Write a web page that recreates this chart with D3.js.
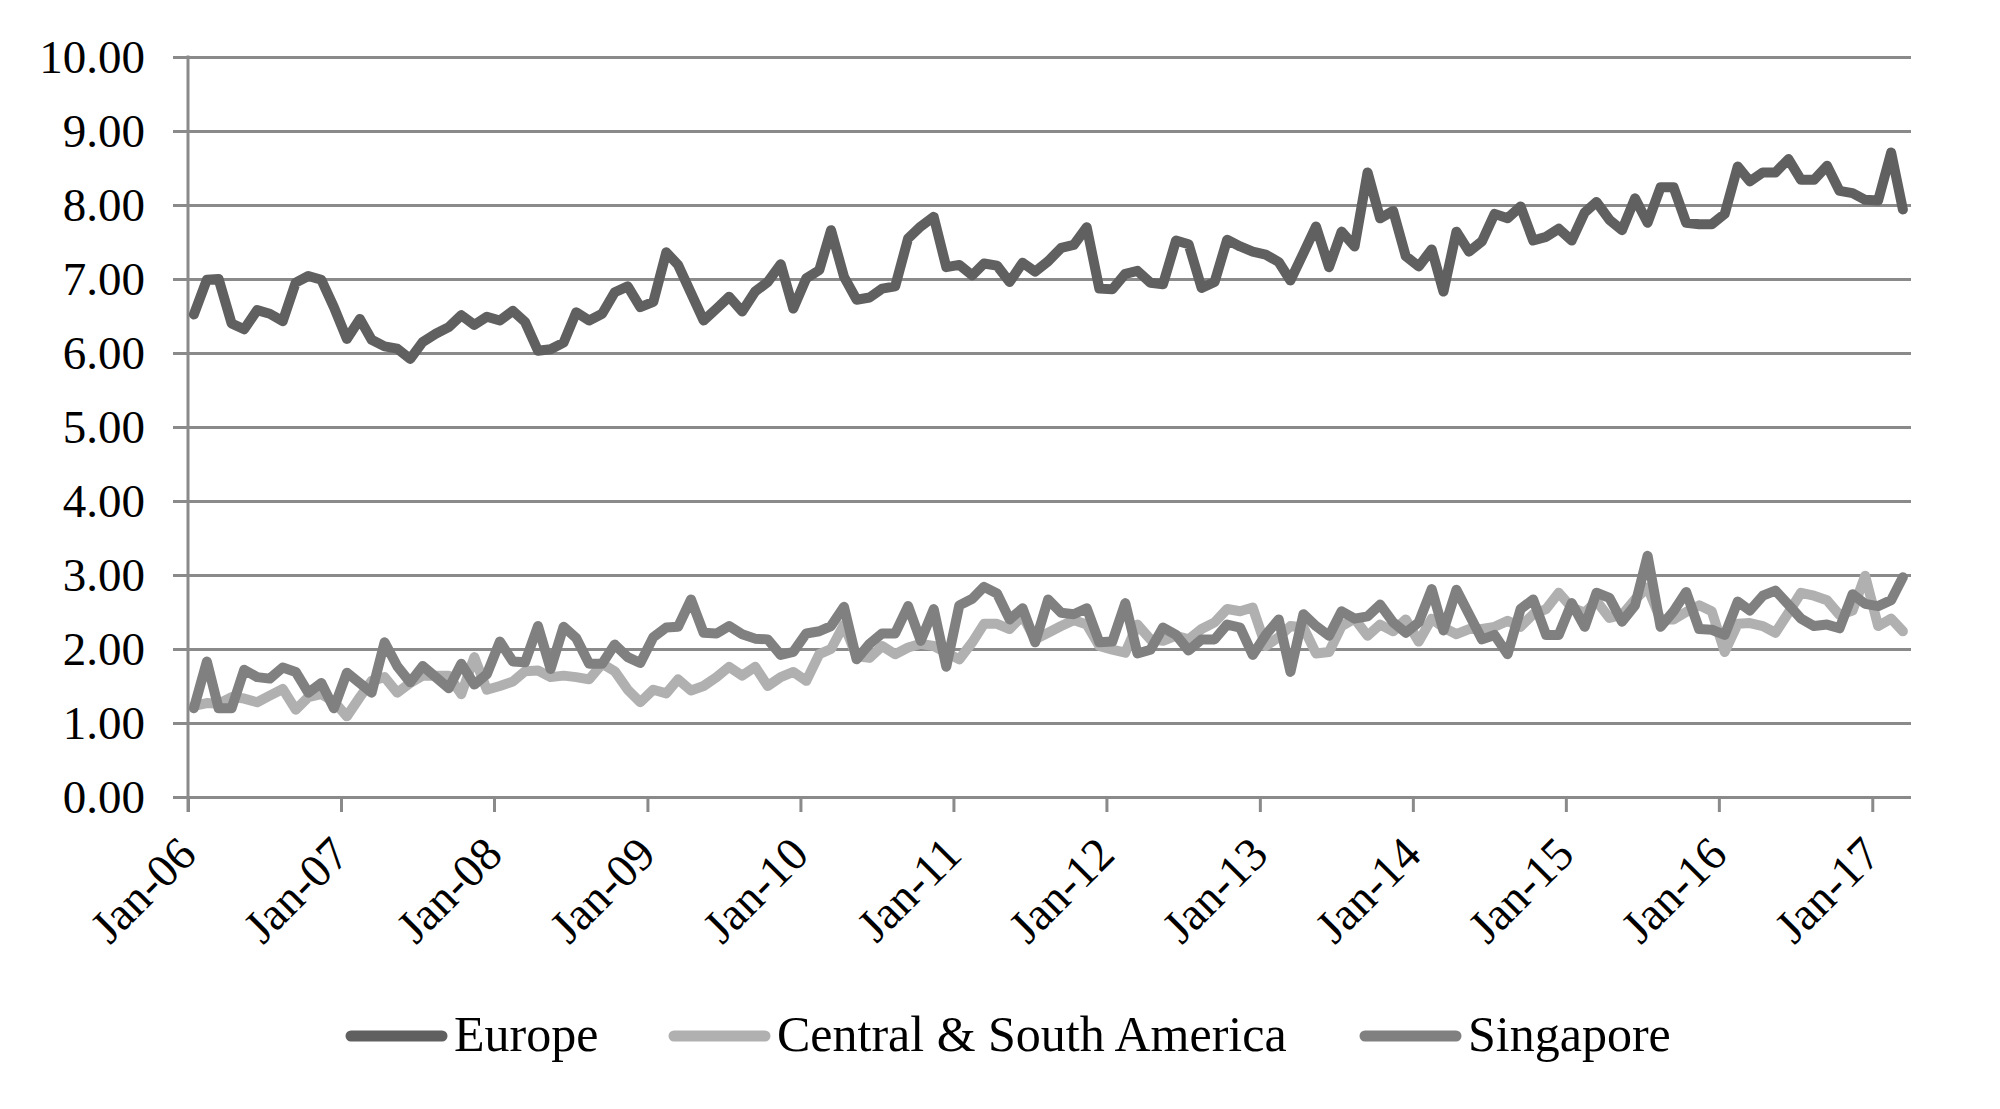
<!DOCTYPE html>
<html><head><meta charset="utf-8">
<script src="https://cdn.jsdelivr.net/npm/d3@7"></script>
<style>
body{margin:0;background:#fff}
svg{display:block}
text{font-family:"Liberation Serif","Times New Roman",serif;fill:#000}
</style>
</head><body>
<svg id="chart" width="2000" height="1109"></svg>
<script>
// Categories: monthly observations Jan-06 .. Mar-17
const firstMonth = new Date(2006, 0, 1);
const axisEnd = new Date(2017, 3, 1);
const months = d3.timeMonth.range(firstMonth, axisEnd); // 135 months

const seriesNames = ["Europe", "Central & South America", "Singapore"];
const seriesColors = ["#5f605f", "#b0b0b0", "#808080"];

const europe = [6.52,6.99,7.00,6.40,6.32,6.58,6.53,6.43,6.95,7.04,6.99,6.62,
6.19,6.46,6.18,6.09,6.06,5.92,6.15,6.26,6.35,6.51,6.38,6.49,
6.44,6.57,6.42,6.03,6.05,6.14,6.55,6.44,6.53,6.82,6.90,6.62,
6.69,7.36,7.19,6.81,6.44,6.60,6.76,6.56,6.83,6.96,7.20,6.60,
7.01,7.12,7.66,7.03,6.72,6.75,6.87,6.90,7.55,7.71,7.84,7.16,
7.19,7.05,7.21,7.18,6.96,7.22,7.10,7.24,7.42,7.46,7.70,6.87,
6.86,7.07,7.11,6.95,6.93,7.52,7.47,6.88,6.96,7.53,7.44,7.37,
7.33,7.23,6.98,7.35,7.71,7.16,7.64,7.44,8.44,7.82,7.92,7.31,
7.17,7.40,6.83,7.64,7.37,7.51,7.88,7.82,7.98,7.52,7.57,7.68,
7.52,7.90,8.04,7.80,7.66,8.09,7.76,8.24,8.24,7.76,7.74,7.74,
7.88,8.52,8.32,8.44,8.44,8.62,8.34,8.34,8.53,8.19,8.16,8.07,
8.06,8.71,7.94];

const centralSouthAmerica = [1.23,1.27,1.26,1.35,1.33,1.28,1.37,1.46,1.18,1.35,1.39,1.29,
1.09,1.35,1.57,1.62,1.41,1.54,1.64,1.64,1.64,1.39,1.89,1.45,
1.50,1.56,1.70,1.71,1.62,1.64,1.62,1.59,1.80,1.70,1.45,1.28,
1.45,1.40,1.59,1.44,1.50,1.62,1.76,1.64,1.76,1.50,1.62,1.69,
1.57,1.93,2.00,2.33,1.90,1.88,2.04,1.93,2.02,2.07,2.04,1.95,
1.86,2.09,2.34,2.34,2.27,2.45,2.13,2.22,2.31,2.39,2.33,2.04,
1.99,1.95,2.33,2.13,2.11,2.18,2.13,2.27,2.36,2.54,2.51,2.56,
2.04,2.16,2.31,2.29,1.94,1.96,2.31,2.41,2.18,2.33,2.24,2.40,
2.10,2.41,2.29,2.20,2.27,2.27,2.30,2.38,2.30,2.47,2.54,2.76,
2.56,2.49,2.65,2.42,2.46,2.67,2.83,2.40,2.40,2.50,2.59,2.51,
1.96,2.34,2.35,2.31,2.22,2.49,2.76,2.72,2.66,2.46,2.52,2.99,
2.31,2.41,2.24];

const singapore = [1.20,1.83,1.20,1.20,1.72,1.62,1.60,1.75,1.69,1.41,1.54,1.20,
1.68,1.54,1.41,2.09,1.77,1.55,1.77,1.62,1.47,1.80,1.52,1.66,
2.10,1.83,1.82,2.31,1.73,2.30,2.15,1.80,1.80,2.06,1.89,1.81,
2.16,2.29,2.30,2.67,2.22,2.21,2.31,2.20,2.14,2.13,1.92,1.96,
2.21,2.24,2.31,2.57,1.86,2.07,2.21,2.21,2.58,2.11,2.54,1.76,
2.59,2.68,2.84,2.75,2.40,2.55,2.09,2.67,2.49,2.47,2.55,2.09,
2.10,2.62,1.94,1.99,2.29,2.19,1.98,2.13,2.13,2.33,2.29,1.92,
2.19,2.40,1.69,2.47,2.31,2.18,2.51,2.41,2.44,2.60,2.36,2.22,
2.36,2.81,2.25,2.80,2.47,2.13,2.19,1.93,2.54,2.67,2.19,2.19,
2.62,2.30,2.76,2.69,2.37,2.59,3.26,2.30,2.51,2.77,2.27,2.26,
2.19,2.64,2.52,2.72,2.79,2.60,2.41,2.31,2.33,2.28,2.74,2.61,
2.58,2.66,2.97];

const yTicks = [0,1,2,3,4,5,6,7,8,9,10];
const xTickYears = [2006,2007,2008,2009,2010,2011,2012,2013,2014,2015,2016,2017];

const seriesValues = [europe, centralSouthAmerica, singapore];

const svg = d3.select("#chart");
const gridColor = "#8a8a8a";

const x = d3.scaleTime().domain([firstMonth, axisEnd]).range([188, 1910]);
const y = d3.scaleLinear().domain([0, 10]).range([797, 57]);
const midMonth = d => d3.timeDay.offset(d, 14);

// Y axis with gridlines
const yAxis = d3.axisLeft(y).tickValues(yTicks).tickFormat(d3.format(".2f"))
  .tickSizeInner(-(1911 - 188)).tickSizeOuter(0).tickPadding(0);
const gy = svg.append("g").attr("transform", "translate(188,0)").call(yAxis);
gy.select(".domain").remove();
gy.selectAll(".tick line").attr("stroke", gridColor).attr("stroke-width", 3)
  .attr("x1", -15);
gy.selectAll(".tick text").attr("x", -43).attr("dy", "0.34em")
  .style("font-size", "47px").attr("fill", "#000");

// X axis ticks
const xTicks = xTickYears.map(yr => new Date(yr, 0, 1));
const xAxis = d3.axisBottom(x).tickValues(xTicks).tickSizeInner(15).tickSizeOuter(0)
  .tickFormat(d3.timeFormat("%b-%y"));
const gx = svg.append("g").attr("transform", "translate(0,797)").call(xAxis);
gx.select(".domain").remove();
gx.selectAll(".tick line").attr("stroke", gridColor).attr("stroke-width", 3);
gx.selectAll(".tick text")
  .attr("y", 0).attr("dy", 0)
  .attr("transform", "translate(10,60) rotate(-45)")
  .attr("text-anchor", "end")
  .style("font-size", "47px").attr("fill", "#000");

// Y axis line
svg.append("line").attr("x1", 188).attr("x2", 188).attr("y1", y(10) - 1.5).attr("y2", 812)
  .attr("stroke", gridColor).attr("stroke-width", 3);

// Lines
const line = d3.line().x((d, i) => x(midMonth(months[i]))).y(d => y(d));
seriesValues.forEach((vals, k) => {
  svg.append("path").datum(vals)
    .attr("d", line)
    .attr("fill", "none")
    .attr("stroke", seriesColors[k])
    .attr("stroke-width", 10)
    .attr("stroke-linejoin", "round")
    .attr("stroke-linecap", "round");
});

// Legend
const legendX = [346, 669, 1360];
const legend = svg.append("g");
seriesNames.forEach((name, k) => {
  legend.append("line").attr("x1", legendX[k] + 5).attr("x2", legendX[k] + 96)
    .attr("y1", 1036).attr("y2", 1036)
    .attr("stroke", seriesColors[k]).attr("stroke-width", 11).attr("stroke-linecap", "round");
  legend.append("text").attr("x", legendX[k] + 108).attr("y", 1051)
    .style("font-size", "50px").text(name);
});
</script>
</body></html>
